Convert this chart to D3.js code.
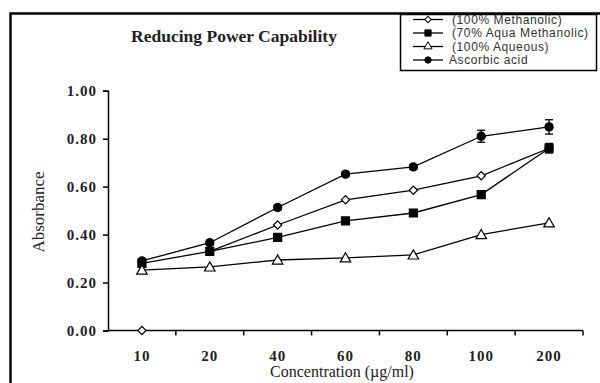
<!DOCTYPE html>
<html>
<head>
<meta charset="utf-8">
<script src="https://cdn.jsdelivr.net/npm/d3@7"></script>
<style>
  body { margin: 0; background: #fff; }
  svg { display: block; }
</style>
</head>
<body>
<div id="chart"></div>
<script>
// Data
const concentrations = ["10", "20", "40", "60", "80", "100", "200"];
const methanolic = [0.00, 0.33, 0.44, 0.545, 0.585, 0.645, 0.76];
const aquaMethanolic = [0.28, 0.33, 0.388, 0.457, 0.49, 0.567, 0.76];
const aqueous = [0.252, 0.265, 0.294, 0.303, 0.315, 0.40, 0.449];
const ascorbic = [0.29, 0.366, 0.513, 0.652, 0.682, 0.81, 0.849];
const ascorbicErr = [0.01, 0.01, 0.01, 0.01, 0.01, 0.025, 0.03];
const aquaErr = [0.01, 0.01, 0.01, 0.01, 0.01, 0.01, 0.02];
const yTicks = [0, 0.2, 0.4, 0.6, 0.8, 1.0];

const seriesNames = ["(100% Methanolic)", "(70% Aqua Methanolic)", "(100% Aqueous)", "Ascorbic acid"];

let width = 600, height = 383;
let margin = { top: 90.7, right: 17, bottom: 52.5, left: 108 };

let svg = d3.select('#chart')
    .append('svg')
    .attr('width', width)
    .attr('height', height);

// outer frame
svg.append('rect')
    .attr('x', 10.5).attr('y', 13.5)
    .attr('width', 620).attr('height', 400)
    .attr('fill', 'none').attr('stroke', '#000').attr('stroke-width', 2.5);

let x = d3.scaleBand()
    .domain(concentrations)
    .range([margin.left, width - margin.right])
    .padding(0);

let y = d3.scaleLinear()
    .domain([0, 1])
    .range([height - margin.bottom, margin.top]);

// axes
let yAxis = svg.append('g')
    .attr('transform', 'translate(' + margin.left + ',0)')
    .call(d3.axisLeft(y).tickValues(yTicks).tickFormat(d3.format('.2f')).tickSize(5).tickPadding(6));

let xAxis = svg.append('g')
    .attr('transform', 'translate(0,' + y(0) + ')')
    .call(d3.axisBottom(x).tickSize(0).tickPadding(20));

// x tick marks at band edges
let edges = concentrations.map(c => x(c)).concat([x(concentrations[concentrations.length - 1]) + x.bandwidth()]);
svg.append('g').selectAll('line')
    .data(edges.slice(1))
    .enter().append('line')
    .attr('x1', d => d).attr('x2', d => d)
    .attr('y1', y(0)).attr('y2', y(0) + 5)
    .attr('stroke', '#000').attr('stroke-width', 1.5);

[xAxis, yAxis].forEach(function (g) {
    g.select('.domain').attr('stroke', '#000').attr('stroke-width', 1.5);
    g.selectAll('.tick line').attr('stroke', '#000').attr('stroke-width', 1.5);
    g.selectAll('text')
        .attr('fill', '#222')
        .style('font-family', '"Liberation Serif", "Times New Roman", serif')
        .style('font-weight', 'bold')
        .style('font-size', '15px')
        .style('letter-spacing', '1px');
});
xAxis.select('.domain').attr('d', 'M' + margin.left + ',0H' + (width - margin.right));

// title and axis titles
svg.append('text')
    .attr('x', 234).attr('y', 42)
    .attr('text-anchor', 'middle')
    .style('font-family', '"Liberation Serif", "Times New Roman", serif')
    .style('font-weight', 'bold')
    .style('font-size', '17.5px')
    .attr('fill', '#222')
    .text('Reducing Power Capability');

svg.append('text')
    .attr('transform', 'translate(44,212) rotate(-90)')
    .attr('text-anchor', 'middle')
    .style('font-family', '"Liberation Serif", "Times New Roman", serif')
    .style('font-size', '17px')
    .attr('fill', '#222')
    .text('Absorbance');

svg.append('text')
    .attr('x', 342).attr('y', 377)
    .attr('text-anchor', 'middle')
    .style('font-family', '"Liberation Serif", "Times New Roman", serif')
    .style('font-size', '16px')
    .attr('fill', '#222')
    .text('Concentration (µg/ml)');

let cx = function (i) { return x(concentrations[i]) + x.bandwidth() / 2; };

let line = d3.line()
    .defined(function (d) { return d > 0; })
    .x(function (d, i) { return cx(i); })
    .y(function (d) { return y(d); });

// rotated square reads closer to the diamond in the picture than d3.symbolDiamond
let symbols = [
    { data: methanolic, shape: d3.symbolSquare, size: 34, rotate: 45, fill: '#fff' },
    { data: aquaMethanolic, shape: d3.symbolSquare, size: 64, rotate: 0, fill: '#000' },
    { data: aqueous, shape: d3.symbolTriangle, size: 48, rotate: 0, fill: '#fff' },
    { data: ascorbic, shape: d3.symbolCircle, size: 52, rotate: 0, fill: '#000' }
];

// lines
symbols.forEach(function (s) {
    svg.append('path')
        .datum(s.data)
        .attr('fill', 'none')
        .attr('stroke', '#000')
        .attr('stroke-width', 1.3)
        .attr('d', line);
});

// error bars
[[ascorbic, ascorbicErr], [aquaMethanolic, aquaErr]].forEach(function (pair) {
    let g = svg.append('g').attr('stroke', '#000').attr('stroke-width', 1.3);
    pair[0].forEach(function (v, i) {
        let e = pair[1][i];
        g.append('line').attr('x1', cx(i)).attr('x2', cx(i)).attr('y1', y(v - e)).attr('y2', y(v + e));
        g.append('line').attr('x1', cx(i) - 4).attr('x2', cx(i) + 4).attr('y1', y(v - e)).attr('y2', y(v - e));
        g.append('line').attr('x1', cx(i) - 4).attr('x2', cx(i) + 4).attr('y1', y(v + e)).attr('y2', y(v + e));
    });
});

// markers
symbols.forEach(function (s) {
    svg.append('g').selectAll('path')
        .data(s.data)
        .enter().append('path')
        .attr('transform', function (d, i) {
            let dy = s.shape === d3.symbolTriangle ? 1 : 0;
            return 'translate(' + cx(i) + ',' + (y(d) + dy) + ') rotate(' + s.rotate + ')';
        })
        .attr('d', d3.symbol().type(s.shape).size(s.size))
        .attr('fill', s.fill)
        .attr('stroke', '#000')
        .attr('stroke-width', 1.2);
});

// legend
let legend = svg.append('g');
legend.append('rect')
    .attr('x', 400.5).attr('y', 14.5)
    .attr('width', 196).attr('height', 56)
    .attr('fill', '#fff').attr('stroke', '#000').attr('stroke-width', 1.5);

seriesNames.forEach(function (name, i) {
    let ly = 19.5 + i * 13.5;
    let s = symbols[i];
    legend.append('line')
        .attr('x1', 413).attr('x2', 443)
        .attr('y1', ly).attr('y2', ly)
        .attr('stroke', '#000').attr('stroke-width', 1.3);
    legend.append('path')
        .attr('transform', 'translate(428,' + ly + ') rotate(' + s.rotate + ')')
        .attr('d', d3.symbol().type(s.shape).size(s.size * 0.6))
        .attr('fill', s.fill).attr('stroke', '#000').attr('stroke-width', 1);
    legend.append('text')
        .attr('x', i === 3 ? 449 : 452)
        .attr('y', ly + 4)
        .style('font-family', '"Liberation Sans", Arial, sans-serif')
        .style('font-size', '12px')
        .style('letter-spacing', '0.6px')
        .attr('fill', '#333')
        .text(name);
});
</script>
</body>
</html>
